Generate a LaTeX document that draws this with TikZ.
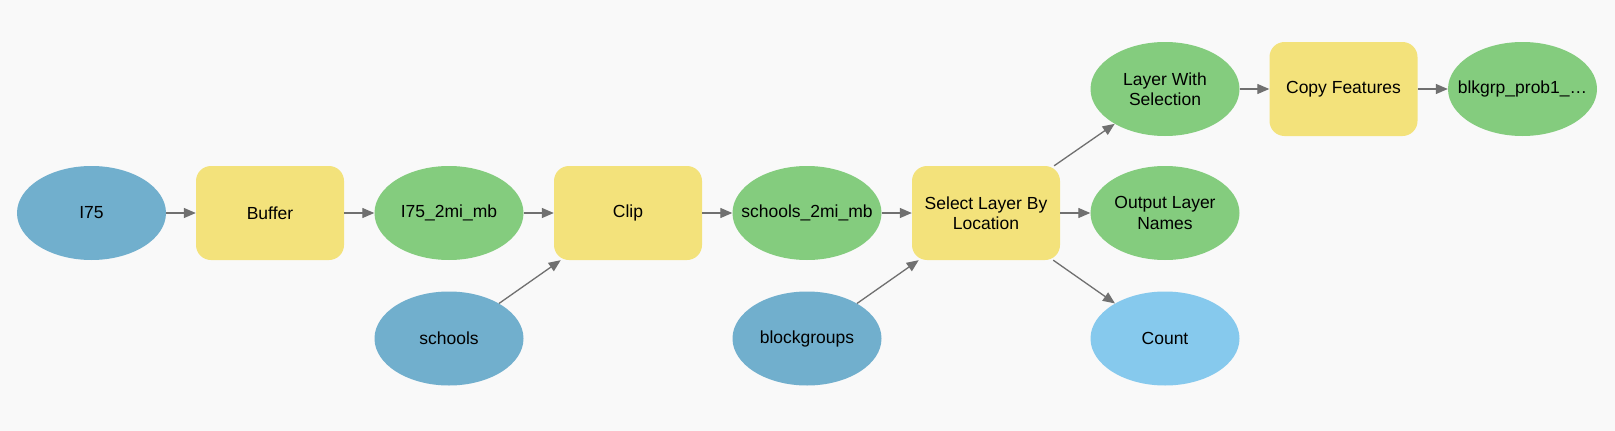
\documentclass[tikz,border=0pt]{standalone}
\usepackage{fontspec}
\setmainfont{Liberation Sans}
\usepackage{tikz}
\usetikzlibrary{shapes.geometric,arrows.meta}
\definecolor{bgcol}{HTML}{F9F9F9}
\definecolor{datablue}{HTML}{71AFCD}
\definecolor{toolyellow}{HTML}{F3E27B}
\definecolor{outgreen}{HTML}{84CC7E}
\definecolor{valblue}{HTML}{86C9ED}
\definecolor{linkgray}{HTML}{707070}
\newcommand{\wide}[1]{\makebox[0pt]{#1}}
\tikzstyle{inputdata}=[ellipse, fill=datablue, align=center, inner sep=0pt, minimum width=149pt, minimum height=94pt]
\tikzstyle{outdata}=[ellipse, fill=outgreen, align=center, inner sep=0pt, minimum width=149pt, minimum height=94pt]
\tikzstyle{outvalue}=[ellipse, fill=valblue, align=center, inner sep=0pt, minimum width=149pt, minimum height=94pt]
\tikzstyle{toolbox}=[rectangle, rounded corners=15pt, fill=toolyellow, align=center, inner sep=0pt, minimum width=148pt, minimum height=94pt]
\tikzstyle{link}=[-{Triangle[length=12pt,width=10pt]}, draw=linkgray, fill=linkgray, line width=1.3pt]

\begin{document}
\begin{tikzpicture}[x=1pt, y=-1pt, every node/.style={font=\fontsize{17.5}{20.5}\selectfont}]

\fill[bgcol] (0,0) rectangle (1615,431);

\node[inputdata] (i75) at (91.5,213) {I75};
\node[toolbox] (buffer) at (270,213) {Buffer};
\node[outdata] (i75mb) at (449,213) {I75\_2mi\_mb};
\node[inputdata] (schools) at (449,338.5) {schools};
\node[toolbox] (clip) at (628,213) {Clip};
\node[outdata] (schoolsmb) at (807,213) {\wide{schools\_2mi\_mb}};
\node[inputdata] (blockgroups) at (807,338.5) {blockgroups};
\node[toolbox] (select) at (986,213) {Select Layer By\\Location};
\node[outdata] (withsel) at (1165,89) {Layer With\\Selection};
\node[outdata] (outnames) at (1165,213) {Output Layer\\Names};
\node[outvalue] (count) at (1165,338.5) {Count};
\node[toolbox] (copy) at (1343.5,89) {Copy Features};
\node[outdata] (blkgrp) at (1522.5,89) {\wide{blkgrp\_prob1\_…}};

\draw[link] (i75) -- (buffer);
\draw[link] (buffer) -- (i75mb);
\draw[link] (i75mb) -- (clip);
\draw[link] (schools) -- (clip);
\draw[link] (clip) -- (schoolsmb);
\draw[link] (schoolsmb) -- (select);
\draw[link] (blockgroups) -- (select);
\draw[link] (select) -- (withsel);
\draw[link] (select) -- (outnames);
\draw[link] (select) -- (count);
\draw[link] (withsel) -- (copy);
\draw[link] (copy) -- (blkgrp);

\end{tikzpicture}
\end{document}
